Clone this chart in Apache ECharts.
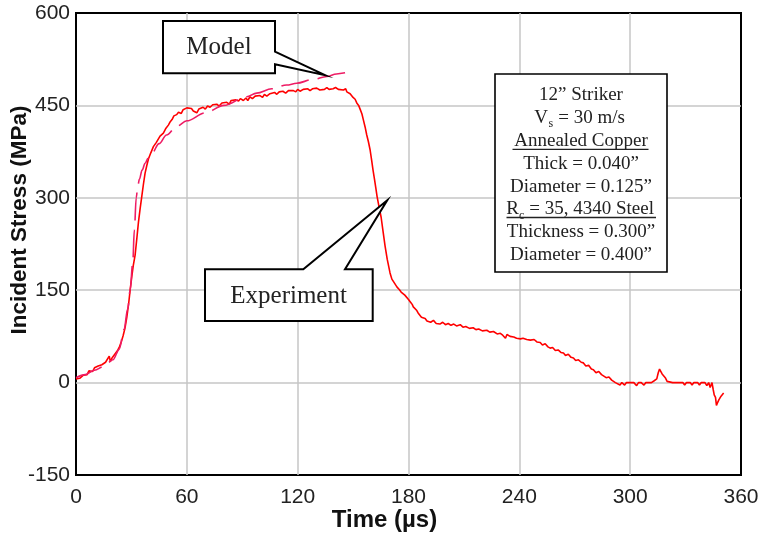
<!DOCTYPE html>
<html>
<head>
<meta charset="utf-8">
<script src="https://cdn.jsdelivr.net/npm/echarts@6/dist/echarts.min.js"></script>
<style>
  html, body { margin: 0; padding: 0; background: #fff; }
  #chart { width: 763px; height: 536px; }
</style>
</head>
<body>
<div id="chart"></div>
<script>
// Measured incident stress pulse (µs, MPa)
const expTime = [
  0, 1, 2, 3, 4, 5, 6, 7, 8, 9, 10, 11, 12, 13, 14, 15, 16, 17, 18, 18.6,
  19.5, 20.5, 21.5, 22.5, 23.5, 24.5, 25.5, 26.5, 27.5, 28.5, 29.3, 30.2, 31, 32, 33, 33.8, 34.7, 35.6, 36.5, 37.4,
  38.3, 39.2, 40.5, 41.9, 43.5, 45.5, 47.3, 48.5, 50, 50.9, 52, 53, 54.5, 55.5, 57, 58, 59, 60, 61, 62.5,
  63.5, 64.5, 65.4, 66.5, 67.5, 68.8, 70, 71.2, 72.6, 74, 75, 76.2, 77.5, 79, 80, 81.6, 83, 84, 85, 86.5,
  88, 89, 90.6, 92, 93, 94.2, 95.5, 97, 98, 99.6, 101, 102, 103.3, 105, 106, 107.5, 108.7, 110, 111, 112,
  113.5, 115, 116, 117.7, 119, 120, 121.3, 123, 124, 125.5, 126.7, 128, 129, 130.3, 132, 133, 134.5, 135.8, 137, 138,
  139.2, 140.5, 142, 143, 144.8, 146, 146.6, 147.5, 148.4, 149.2, 150, 151.1, 152, 153, 153.8, 154.8, 155.6, 156.5, 157.4, 158.3,
  159.2, 160, 160.8, 161.6, 162.3, 163, 164, 165.2, 166.2, 167.3, 168.5, 170, 171, 172.5, 173.8, 175, 176, 177, 178, 179,
  180, 181, 182, 182.6, 183.5, 184.5, 185.2, 186, 187, 188, 189, 190, 191, 192, 193.5, 195, 196, 197, 198.5, 200,
  201.5, 203, 204.5, 206, 208, 209.5, 211, 213, 215, 216.5, 218, 220, 222.4, 224, 226, 228, 229.7, 231, 232.5, 233.3,
  235, 237, 238.5, 240.6, 242, 244, 246, 248, 249.5, 251.3, 252.5, 254, 255.5, 256.7, 258, 259.5, 261, 262.5, 263.9, 265,
  266.5, 268, 269.3, 270.5, 272, 273.5, 274.7, 276, 277.5, 279, 280.1, 281.5, 283, 284.5, 285.5, 287, 288.5, 290, 290.9, 292,
  293, 294.5, 295.5, 297, 298, 300, 302, 303.5, 304.5, 306, 307.5, 308.5, 310, 311.5, 313, 314.4, 315.2, 315.9, 316.6, 317.3,
  318, 319, 320, 321, 323, 325, 327, 328.5, 329.5, 330.5, 331.5, 332.5, 333.5, 334.5, 335.5, 336.5, 337.5, 338.5, 339.5, 340.5,
  341.5, 342.5, 343.3, 344.3, 345, 345.5, 346.2, 346.7, 347.4, 348, 348.5, 349.2, 350, 350.6
];
const expStress = [
  6, 9, 7, 10, 12, 15, 13, 19, 21, 18, 24, 22, 27, 24, 29, 26, 33, 30, 43, 34,
  40, 44, 48, 52, 58, 66, 76, 88, 106, 128, 150, 172, 190, 207, 236, 260, 282, 302, 322, 340,
  352, 363, 373, 383, 390, 400, 405, 412, 418, 423, 427, 433, 435, 439, 437, 443, 441, 446, 443, 445,
  441, 443, 438, 444, 442, 447, 444, 449, 447, 451, 448, 452, 449, 454, 451, 455, 452, 458, 455, 459,
  457, 461, 458, 462, 458, 464, 461, 465, 462, 466, 463, 468, 465, 469, 466, 471, 468, 472, 469, 473,
  470, 474, 471, 474, 472, 476, 473, 476, 474, 477, 474, 477, 475, 478, 475, 478, 476, 479, 476, 479,
  477, 479, 476, 478, 475, 477, 472, 473, 469, 467, 463, 460, 454, 450, 444, 436, 426, 415, 402, 391,
  378, 362, 345, 330, 316, 302, 286, 268, 246, 222, 200, 178, 168, 161, 155, 151, 147, 146, 142, 139,
  135, 131, 127, 123, 120, 117, 113, 110, 106, 103, 104, 100, 102, 98, 101, 96, 99, 95, 98, 94,
  96, 93, 95, 92, 94, 90, 91, 88, 89, 86, 87, 84, 85, 82, 83, 79, 80, 77, 72, 78,
  75, 74, 72, 71, 72, 70, 69, 70, 66, 65, 61, 63, 58, 56, 57, 52, 53, 49, 48, 44,
  46, 41, 40, 36, 37, 33, 32, 27, 28, 22, 21, 16, 18, 13, 13, 8, 9, 4, 5, 0,
  3, -4, 0, -4, 0, 0, 0, -5, 0, 0, -4, 0, 0, 0, 3, 6, 16, 22, 20, 14,
  17, 8, 2, 0, 0, 0, 0, 0, -4, 0, -3, 0, -4, 0, -3, 0, -4, 0, -3, 0,
  -5, 0, -8, 0, -12, -20, -24, -37, -32, -28, -31, -22, -24, -17
];

// Model prediction (µs, MPa)
const modelTime = [
  0, 5, 10, 15, 20, 23.4, 26, 28, 29.3, 30.7, 31.6, 32.6, 33.4, 34.3, 35.8, 37.4, 39, 41,
  45, 49, 54.5, 60, 70, 80, 92.4, 97.8, 106, 114, 119.5, 128, 135.8, 141, 147.4
];
const modelStress = [
  8, 13, 20, 26, 37, 54, 86, 120, 150, 194, 248, 300, 318, 330, 345, 356, 364, 372,
  388, 402, 416, 425, 438, 450, 464, 470, 477, 483, 486, 492, 497, 501, 504
];

// Test conditions listed in the legend box
const specLines = [
  '12” Striker',
  null, // velocity line, drawn with a subscript
  'Annealed Copper',
  'Thick = 0.040”',
  'Diameter = 0.125”',
  null, // hardness line, drawn with a subscript
  'Thickness = 0.300”',
  'Diameter = 0.400”'
];

const SANS = '"Liberation Sans", Arial, sans-serif';
const SERIF = '"Liberation Serif", "Times New Roman", serif';
const INK = '#222';

function pairs(xs, ys) { return xs.map((x, i) => [x, ys[i]]); }

const chart = echarts.init(document.getElementById('chart'), null, { renderer: 'canvas' });

const gridLine = { show: true, showMinLine: false, showMaxLine: false, lineStyle: { color: '#c6c6c6', width: 1.5 } };

chart.setOption({
  animation: false,
  grid: {
    left: 76, right: 22, top: 13, bottom: 61,
    containLabel: false, outerBoundsMode: 'none',
    show: true, borderColor: '#000', borderWidth: 2, backgroundColor: 'rgba(0,0,0,0)'
  },
  xAxis: {
    type: 'value', min: 0, max: 360, interval: 60,
    name: 'Time (µs)', nameLocation: 'middle', nameGap: 33, nameMoveOverlap: false,
    nameTextStyle: { fontFamily: SANS, fontSize: 24, fontWeight: 'bold', color: '#111', padding: [0, 48, 0, 0] },
    axisLine: { show: false }, axisTick: { show: false },
    axisLabel: { fontFamily: SANS, fontSize: 21, color: INK, margin: 12 },
    splitLine: gridLine
  },
  yAxis: {
    type: 'value', min: -150, max: 600, interval: 150,
    name: 'Incident Stress (MPa)', nameLocation: 'middle', nameGap: 45, nameMoveOverlap: false,
    nameTextStyle: { fontFamily: SANS, fontSize: 22.5, fontWeight: 'bold', color: '#111', padding: [0, 0, 0, 48] },
    axisLine: { show: false }, axisTick: { show: false },
    axisLabel: { fontFamily: SANS, fontSize: 21, color: INK, margin: 6, padding: [5, 0, 0, 0] },
    splitLine: gridLine
  },
  series: [
    {
      name: 'Experiment', type: 'line', data: pairs(expTime, expStress),
      symbol: 'none', lineStyle: { color: '#ff0000', width: 1.6 }, z: 3
    },
    {
      name: 'Model', type: 'line', data: pairs(modelTime, modelStress),
      symbol: 'none', smooth: 0.35, smoothMonotone: 'x',
      lineStyle: { color: '#ee1c64', width: 1.6, type: [28, 9] }, z: 4
    }
  ]
});

// Callout pointers aim at data coordinates
const modelTip = chart.convertToPixel({ gridIndex: 0 }, [134.8, 499]);
const expTip = chart.convertToPixel({ gridIndex: 0 }, [168.5, 296]);

function text(x, y, str, size, align, family) {
  return {
    type: 'text', z: 20,
    style: {
      text: str, x: x, y: y, fill: INK,
      font: size + 'px ' + (family || SERIF),
      textAlign: align || 'center', textVerticalAlign: 'middle'
    }
  };
}
function hline(x1, x2, y) {
  return { type: 'line', z: 20, shape: { x1: x1, y1: y, x2: x2, y2: y }, style: { stroke: INK, lineWidth: 1.3 } };
}

const boxCx = 581, lineY0 = 95, lineStep = 22.9;
const specGraphics = [];
specLines.forEach((s, i) => {
  if (s) specGraphics.push(text(boxCx, lineY0 + i * lineStep, s, 19));
});
// V_s line
const vy = lineY0 + lineStep;
specGraphics.push(text(548, vy, 'V', 19, 'right'));
specGraphics.push(text(548.5, vy + 6, 's', 12, 'left'));
specGraphics.push(text(553.5, vy, ' = 30 m/s', 19, 'left'));
// R_c line
const ry = lineY0 + 5 * lineStep;
specGraphics.push(text(519, ry, 'R', 19, 'right'));
specGraphics.push(text(519, ry + 6, 'c', 12, 'left'));
specGraphics.push(text(524.5, ry, ' = 35, 4340 Steel', 19, 'left'));
// underlines
specGraphics.push(hline(512.5, 648.5, lineY0 + 2 * lineStep + 8.5));
specGraphics.push(hline(506.5, 656, ry + 8));

chart.setOption({
  graphic: [
    {
      type: 'rect', z: 15,
      shape: { x: 495, y: 74, width: 172, height: 198 },
      style: { fill: '#fff', stroke: '#000', lineWidth: 1.6 }
    },
    ...specGraphics,
    {
      type: 'polygon', z: 15,
      shape: { points: [[163, 21], [275, 21], [275, 51.7], modelTip, [275, 64.3], [275, 73.3], [163, 73.3]] },
      style: { fill: '#fff', stroke: '#000', lineWidth: 2 }
    },
    text(219, 47, 'Model', 25),
    {
      type: 'polygon', z: 15,
      shape: { points: [[205, 269.3], [303.3, 269.3], expTip, [345, 269.3], [372.7, 269.3], [372.7, 321], [205, 321]] },
      style: { fill: '#fff', stroke: '#000', lineWidth: 2 }
    },
    text(288.6, 296, 'Experiment', 25)
  ]
});
</script>
</body>
</html>
